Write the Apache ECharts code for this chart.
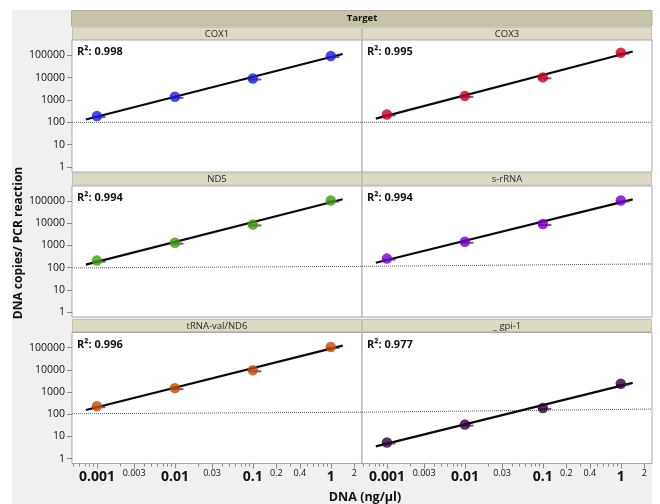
<!DOCTYPE html>
<html>
<head>
<meta charset="utf-8">
<script src="https://cdn.jsdelivr.net/npm/echarts@6/dist/echarts.min.js"></script>
<style>
  html, body { margin: 0; padding: 0; background: #ffffff; }
  #chart { width: 660px; height: 504px; }
</style>
</head>
<body>
<div id="chart"></div>
<script>
// Standard-curve data: DNA input (ng/µl) vs. measured copies per PCR reaction
const doses = [0.001, 0.01, 0.1, 1];
const targets = ['COX1', 'COX3', 'ND5', 's-rRNA', 'tRNA-val/ND6', '_ gpi-1'];

const cox1    = [190, 1380, 9100, 92000];
const cox3    = [224, 1520, 10200, 129000];
const nd5     = [209, 1340, 8900, 107000];
const srRNA   = [257, 1480, 9300, 107000];
const trnaNd6 = [229, 1490, 9500, 107000];
const gpi1    = [5.3, 34, 192, 2340];

const rSquared = ['0.998', '0.995', '0.994', '0.994', '0.996', '0.977'];

// Detection-limit reference line per panel row: left edge, column boundary, right edge
const lodStart = [100, 98, 105];
const lodMid   = [100, 115, 123];
const lodEnd   = [100, 148, 170];

// Dose span covered by the fitted regression lines
const fitSpan = [0.00072, 1.42];

// Axis tick labels
const majorDoseLabels = [0.001, 0.01, 0.1, 1];
const minorDoseLabels = [0.003, 0.03, 0.2, 0.4, 2];
const copyTicks = [1, 10, 100, 1000, 10000, 100000];

const seriesValues = [cox1, cox3, nd5, srRNA, trnaNd6, gpi1];
const pointColors = ['#1c1cd6', '#c4001c', '#3f9a0c', '#7000c8', '#c24a02', '#2a0232'];

// ---- layout ----
const colLeft = [72, 362];
const panelW = 290;
const rowTop = [40, 186, 332.5];
const rowH = [132, 131, 131];
const stripTop = [27, 172.5, 319];
const stripH = 13;
const XMIN = -3.32, XMAX = 0.40;
const YMIN = -0.22, YMAX = 5.68;
const FONT = '"Open Sans", "Liberation Sans", Arial, sans-serif';

const lg = Math.log10;

// minor ticks at every k·10^n inside the dose range
const minorTickVals = [];
for (let n = -4; n <= 0; n++) {
  for (let k = 1; k <= 9; k++) {
    const v = lg(k * Math.pow(10, n));
    if (v >= XMIN && v <= XMAX) minorTickVals.push(v);
  }
}

function labelFor(list, v) {
  const hit = list.find(d => Math.abs(lg(d) - v) < 1e-6);
  return hit === undefined ? '' : String(hit);
}

// least-squares fit in log-log space
function fitLine(xs, ys) {
  const lx = xs.map(lg), ly = ys.map(lg);
  const n = lx.length;
  const mx = lx.reduce((a, b) => a + b, 0) / n;
  const my = ly.reduce((a, b) => a + b, 0) / n;
  let sxy = 0, sxx = 0;
  for (let i = 0; i < n; i++) { sxy += (lx[i] - mx) * (ly[i] - my); sxx += (lx[i] - mx) ** 2; }
  const slope = sxy / sxx;
  return fitSpan.map(d => [lg(d), my + slope * (lg(d) - mx)]);
}

const grids = [], xAxes = [], yAxes = [], series = [], graphics = [];

// page background
graphics.push({ type: 'rect', z: -10, shape: { x: 12, y: 10, width: 640, height: 494 }, style: { fill: '#f0f0f0' } });
// "Target" header band
graphics.push({ type: 'rect', z: 10, shape: { x: 71.5, y: 10.5, width: 580.5, height: 15.5 }, style: { fill: '#c7c3a9', stroke: '#b0ad98', lineWidth: 1 } });
graphics.push({ type: 'text', z: 11, x: 362, y: 18.5, style: { text: 'Target', font: 'bold 9.5px ' + FONT, fill: '#111111', align: 'center', verticalAlign: 'middle' } });

function baseX(i) {
  return {
    gridIndex: i, type: 'value', position: 'bottom', min: XMIN, max: XMAX,
    axisLine: { show: false, onZero: false }, splitLine: { show: false }
  };
}

targets.forEach((name, i) => {
  const r = Math.floor(i / 2), c = i % 2;
  const bottom = r === 2;
  const left = colLeft[c], top = rowTop[r];

  grids.push({
    left: left, top: top, width: panelW, height: rowH[r],
    show: true, backgroundColor: '#ffffff', borderColor: '#a8a8a8', borderWidth: 1
  });

  // strip with the target name
  graphics.push({ type: 'rect', z: 10, shape: { x: left + 0.5, y: stripTop[r] + 0.5, width: panelW - 1, height: stripH - 1 }, style: { fill: '#dcd9c7', stroke: '#c3c0ae', lineWidth: 1 } });
  graphics.push({ type: 'text', z: 11, x: left + panelW / 2, y: stripTop[r] + stripH / 2 + 0.5, style: { text: name, font: '9.5px ' + FONT, fill: '#2a2a2a', align: 'center', verticalAlign: 'middle' } });
  // R² annotation
  graphics.push({ type: 'text', z: 11, x: left + 5, y: top + 12, style: { text: 'R²: ' + rSquared[i], font: 'bold 11px ' + FONT, fill: '#111111', verticalAlign: 'middle' } });

  const xi = xAxes.length;
  xAxes.push(Object.assign(baseX(i), {
    axisTick: { show: bottom, customValues: minorTickVals, length: 3, lineStyle: { color: '#8a8a8a' } },
    axisLabel: { show: false }
  }));
  if (bottom) {
    xAxes.push(Object.assign(baseX(i), {
      axisTick: { show: true, customValues: majorDoseLabels.concat(minorDoseLabels).map(lg), length: 5, lineStyle: { color: '#8a8a8a' } },
      axisLabel: {
        show: true, customValues: majorDoseLabels.map(lg), margin: 7,
        formatter: v => labelFor(majorDoseLabels, v),
        fontFamily: FONT, fontSize: 14, fontWeight: 'bold', color: '#111111'
      }
    }));
    xAxes.push(Object.assign(baseX(i), {
      axisTick: { show: false },
      axisLabel: {
        show: true, customValues: minorDoseLabels.map(lg), margin: 5,
        formatter: v => labelFor(minorDoseLabels, v),
        fontFamily: FONT, fontSize: 9, color: '#111111'
      }
    }));
  }

  const yi = yAxes.length;
  yAxes.push({
    gridIndex: i, type: 'value', position: 'left', min: YMIN, max: YMAX,
    axisLine: { show: false, onZero: false }, splitLine: { show: false },
    axisTick: { show: c === 0, customValues: copyTicks.map(lg), length: 5, lineStyle: { color: '#8a8a8a' } },
    axisLabel: {
      show: c === 0, customValues: copyTicks.map(lg), margin: 7,
      formatter: v => labelFor(copyTicks, v),
      fontFamily: FONT, fontSize: 10.5, color: '#111111'
    }
  });

  const lodL = c === 0 ? lodStart[r] : lodMid[r];
  const lodR = c === 0 ? lodMid[r] : lodEnd[r];
  series.push({
    type: 'line', xAxisIndex: xi, yAxisIndex: yi, silent: true, symbol: 'none', z: 2,
    data: [[XMIN, lg(lodL)], [XMAX, lg(lodR)]],
    lineStyle: { color: '#55587a', width: 1, type: [1, 1] }
  });

  const values = seriesValues[i];
  series.push({
    type: 'line', xAxisIndex: xi, yAxisIndex: yi, silent: true, symbol: 'none', z: 3,
    data: fitLine(doses, values),
    lineStyle: { color: '#0a0a0a', width: 2.2 }
  });

  const pts = doses.map((d, k) => [lg(d), lg(values[k])]);
  series.push({
    type: 'scatter', xAxisIndex: xi, yAxisIndex: yi, silent: true, z: 4,
    symbol: 'rect', symbolSize: [13, 2], symbolOffset: [2, 1],
    itemStyle: { color: '#4a3466' },
    data: pts
  });
  series.push({
    type: 'scatter', xAxisIndex: xi, yAxisIndex: yi, silent: true, z: 5,
    symbol: 'circle', symbolSize: 10.5,
    itemStyle: { color: pointColors[i] },
    data: pts
  });
});

// axis titles
graphics.push({ type: 'text', z: 11, x: 365, y: 497, style: { text: 'DNA (ng/µl)', font: 'bold 12.5px ' + FONT, fill: '#111111', align: 'center', verticalAlign: 'middle' } });
graphics.push({ type: 'text', z: 11, x: 19, y: 243, rotation: Math.PI / 2, style: { text: 'DNA copies/ PCR reaction', font: 'bold 12px ' + FONT, fill: '#111111', align: 'center', verticalAlign: 'middle' } });

const chart = echarts.init(document.getElementById('chart'), null, { renderer: 'canvas' });
chart.setOption({
  animation: false,
  backgroundColor: '#ffffff',
  grid: grids,
  xAxis: xAxes,
  yAxis: yAxes,
  series: series,
  graphic: graphics
});
</script>
</body>
</html>
